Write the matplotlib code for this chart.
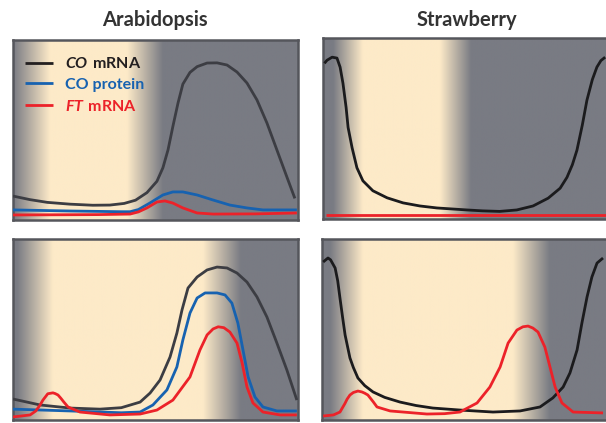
import numpy as np
import matplotlib
matplotlib.use("Agg")
import matplotlib.pyplot as plt
from matplotlib.colors import to_rgb

plt.rcParams['font.family'] = ['Lato', 'DejaVu Sans']
plt.rcParams['mathtext.fontset'] = 'custom'
plt.rcParams['mathtext.bfit'] = 'Lato:italic:bold'
plt.rcParams['mathtext.rm'] = 'Lato:bold'

# titles and legend labels
titles = ["Arabidopsis", "Strawberry"]
labels = [r"$\mathbfit{CO}\ $mRNA", "CO protein", r"$\mathbfit{FT}\ $mRNA"]

# time is fraction of the panel width, level is fraction of panel height
# --- Arabidopsis, short day (top left)
a1_co_t = [0.0, 0.06, 0.12, 0.2, 0.28, 0.34, 0.39, 0.43, 0.47, 0.505, 0.526, 0.544, 0.561, 0.579, 0.596,
           0.621, 0.646, 0.681, 0.716, 0.751, 0.786, 0.821, 0.856, 0.891, 0.926, 0.961, 0.989]
a1_co_v = [0.133, 0.113, 0.098, 0.088, 0.082, 0.083, 0.092, 0.11, 0.152, 0.215, 0.29, 0.39, 0.52, 0.65, 0.755,
           0.82, 0.852, 0.872, 0.873, 0.861, 0.822, 0.761, 0.667, 0.539, 0.389, 0.239, 0.12]
a1_pr_t = [0.0, 0.2, 0.38, 0.411, 0.44, 0.48, 0.526, 0.561, 0.596, 0.646, 0.702, 0.761, 0.821, 0.877, 0.996]
a1_pr_v = [0.056, 0.05, 0.046, 0.046, 0.058, 0.094, 0.139, 0.156, 0.156, 0.139, 0.111, 0.083, 0.067, 0.056, 0.056]
a1_ft_t = [0.0, 0.3, 0.411, 0.44, 0.47, 0.505, 0.533, 0.561, 0.596, 0.646, 0.702, 0.85, 0.996]
a1_ft_v = [0.028, 0.03, 0.033, 0.045, 0.067, 0.1, 0.106, 0.094, 0.067, 0.039, 0.033, 0.034, 0.039]

# --- Strawberry, short day (top right)
s1_co_t = [0.005, 0.014, 0.032, 0.049, 0.06, 0.07, 0.081, 0.088, 0.102, 0.119, 0.14, 0.175, 0.225, 0.281,
           0.34, 0.4, 0.505, 0.56, 0.62, 0.68, 0.737, 0.79, 0.832, 0.856, 0.875, 0.891, 0.91, 0.926, 0.945,
           0.961, 0.975, 0.99]
s1_co_v = [0.86, 0.877, 0.894, 0.889, 0.839, 0.75, 0.617, 0.506, 0.394, 0.283, 0.211, 0.156, 0.117, 0.089,
           0.072, 0.061, 0.05, 0.045, 0.042, 0.05, 0.072, 0.115, 0.17, 0.23, 0.3, 0.38, 0.52, 0.656, 0.77,
           0.839, 0.875, 0.894]
s1_ft_t = [0.01, 1.0]
s1_ft_v = [0.022, 0.022]

# --- Arabidopsis, long day (bottom left)
a2_co_t = [0.0, 0.095, 0.2, 0.305, 0.38, 0.446, 0.481, 0.516, 0.551, 0.575, 0.593, 0.614, 0.646, 0.681, 0.716,
           0.751, 0.786, 0.821, 0.856, 0.891, 0.926, 0.961, 0.996]
a2_co_v = [0.116, 0.083, 0.066, 0.06, 0.068, 0.099, 0.149, 0.221, 0.348, 0.48, 0.608, 0.729, 0.79, 0.829, 0.845,
           0.84, 0.812, 0.762, 0.68, 0.569, 0.425, 0.276, 0.11]
a2_pr_t = [0.0, 0.2, 0.38, 0.446, 0.491, 0.54, 0.575, 0.596, 0.621, 0.646, 0.674, 0.716, 0.744, 0.768, 0.789,
           0.807, 0.825, 0.849, 0.877, 0.926, 0.996]
a2_pr_v = [0.06, 0.05, 0.04, 0.044, 0.083, 0.166, 0.293, 0.442, 0.591, 0.674, 0.702, 0.702, 0.691, 0.646, 0.536,
           0.387, 0.238, 0.127, 0.072, 0.05, 0.05]
a2_ft_t = [0.0, 0.06, 0.08, 0.095, 0.105, 0.122, 0.14, 0.148, 0.158, 0.168, 0.178, 0.193, 0.235, 0.34, 0.446,
           0.505, 0.561, 0.621, 0.656, 0.681, 0.702, 0.72, 0.74, 0.761, 0.786, 0.804, 0.821, 0.842, 0.877, 0.937,
           0.996]
a2_ft_v = [0.017, 0.028, 0.05, 0.083, 0.11, 0.145, 0.15, 0.146, 0.138, 0.12, 0.1, 0.072, 0.044, 0.028, 0.033,
           0.055, 0.11, 0.238, 0.387, 0.47, 0.503, 0.515, 0.51, 0.486, 0.425, 0.315, 0.182, 0.094, 0.044, 0.028,
           0.028]

# --- Strawberry, long day (bottom right)
s2_co_t = [0.004, 0.021, 0.03, 0.046, 0.055, 0.063, 0.072, 0.081, 0.098, 0.11, 0.126, 0.15, 0.179, 0.22, 0.274,
           0.33, 0.389, 0.484, 0.6, 0.695, 0.765, 0.81, 0.846, 0.87, 0.895, 0.912, 0.93, 0.947, 0.965, 0.986]
s2_co_v = [0.873, 0.895, 0.885, 0.84, 0.77, 0.674, 0.57, 0.47, 0.343, 0.29, 0.232, 0.19, 0.155, 0.125, 0.099,
           0.08, 0.066, 0.055, 0.044, 0.05, 0.072, 0.122, 0.182, 0.26, 0.387, 0.536, 0.68, 0.79, 0.867, 0.895]
s2_ft_t = [0.004, 0.04, 0.063, 0.08, 0.088, 0.098, 0.11, 0.126, 0.14, 0.15, 0.161, 0.17, 0.18, 0.193, 0.239,
           0.368, 0.43, 0.484, 0.544, 0.589, 0.625, 0.653, 0.684, 0.705, 0.723, 0.74, 0.758, 0.782, 0.8, 0.818,
           0.842, 0.881, 0.986]
s2_ft_v = [0.022, 0.028, 0.044, 0.09, 0.115, 0.138, 0.152, 0.16, 0.155, 0.148, 0.138, 0.12, 0.1, 0.072, 0.05,
           0.033, 0.035, 0.044, 0.094, 0.182, 0.293, 0.425, 0.497, 0.515, 0.519, 0.508, 0.486, 0.403, 0.293,
           0.182, 0.094, 0.044, 0.039]

# light/dark gradient stops (fraction of width, 0 = dark, 1 = light)
bg_a1 = ([0.0, 0.13, 0.40, 0.526, 1.0], [0, 1, 1, 0, 0])
bg_s1 = ([0.0, 0.035, 0.14, 0.41, 0.52, 1.0], [0, 0, 1, 1, 0, 0])
bg_a2 = ([0.0, 0.014, 0.14, 0.667, 0.80, 1.0], [0, 0, 1, 1, 0, 0])
bg_s2 = ([0.0, 0.028, 0.144, 0.67, 0.80, 1.0], [0, 0, 1, 1, 0, 0])

DARK = np.array(to_rgb("#797b83"))
LIGHT = np.array(to_rgb("#fdeac8"))
EDGE = "#55565c"
BLUE = "#1762b0"
RED = "#ec2229"


def shade(ax, stops):
    xs = np.linspace(0, 1, 600)
    w = np.interp(xs, stops[0], stops[1])[:, None]
    img = DARK * (1 - w) + LIGHT * w
    ax.imshow(img[None, :, :], extent=[0, 1, 0, 1], aspect='auto', zorder=0)


def setup(ax):
    ax.set_xlim(0, 1)
    ax.set_ylim(0, 1)
    ax.set_xticks([])
    ax.set_yticks([])
    for s in ax.spines.values():
        s.set_color(EDGE)
        s.set_linewidth(1.8)


fig = plt.figure(figsize=(6.06, 4.23), dpi=100)
W = 285 / 606
ax1 = fig.add_axes([13 / 606, 203 / 423, W, 180 / 423])
ax2 = fig.add_axes([323 / 606, 204 / 423, W, 181 / 423])
ax3 = fig.add_axes([13 / 606, 3 / 423, W, 181 / 423])
ax4 = fig.add_axes([322 / 606, 3 / 423, W, 181 / 423])

kw = dict(lw=2.0, solid_capstyle='butt', solid_joinstyle='round', zorder=3)
ara_black = "#3c3d43"
str_black = "#1b1b1d"

shade(ax1, bg_a1)
l1, = ax1.plot(a1_co_t, a1_co_v, color=ara_black, **kw)
l2, = ax1.plot(a1_pr_t, a1_pr_v, color=BLUE, **kw)
l3, = ax1.plot(a1_ft_t, a1_ft_v, color=RED, **kw)
setup(ax1)
leg = ax1.legend([l1, l2, l3], labels, loc='upper left', bbox_to_anchor=(-0.008, 0.99),
                 frameon=False, handlelength=1.75, handletextpad=0.75,
                 labelspacing=0.42, prop=dict(weight='bold', size=11.5))
for t, c in zip(leg.get_texts(), ["#231f20", BLUE, RED]):
    t.set_color(c)
leg.legend_handles[0].set_color("#231f20")

shade(ax2, bg_s1)
ax2.plot(s1_co_t, s1_co_v, color=str_black, **kw)
ax2.plot(s1_ft_t, s1_ft_v, color=RED, **kw)
setup(ax2)

shade(ax3, bg_a2)
ax3.plot(a2_co_t, a2_co_v, color=ara_black, **kw)
ax3.plot(a2_pr_t, a2_pr_v, color=BLUE, **kw)
ax3.plot(a2_ft_t, a2_ft_v, color=RED, **kw)
setup(ax3)

shade(ax4, bg_s2)
ax4.plot(s2_co_t, s2_co_v, color=str_black, **kw)
ax4.plot(s2_ft_t, s2_ft_v, color=RED, **kw)
setup(ax4)

fig.text(155 / 606, 1 - 20 / 423, titles[0], ha='center', va='center',
         fontsize=14.5, fontweight='bold', color="#333333")
fig.text(467 / 606, 1 - 20 / 423, titles[1], ha='center', va='center',
         fontsize=14.5, fontweight='bold', color="#333333")

fig.savefig("out.png", dpi=100)
